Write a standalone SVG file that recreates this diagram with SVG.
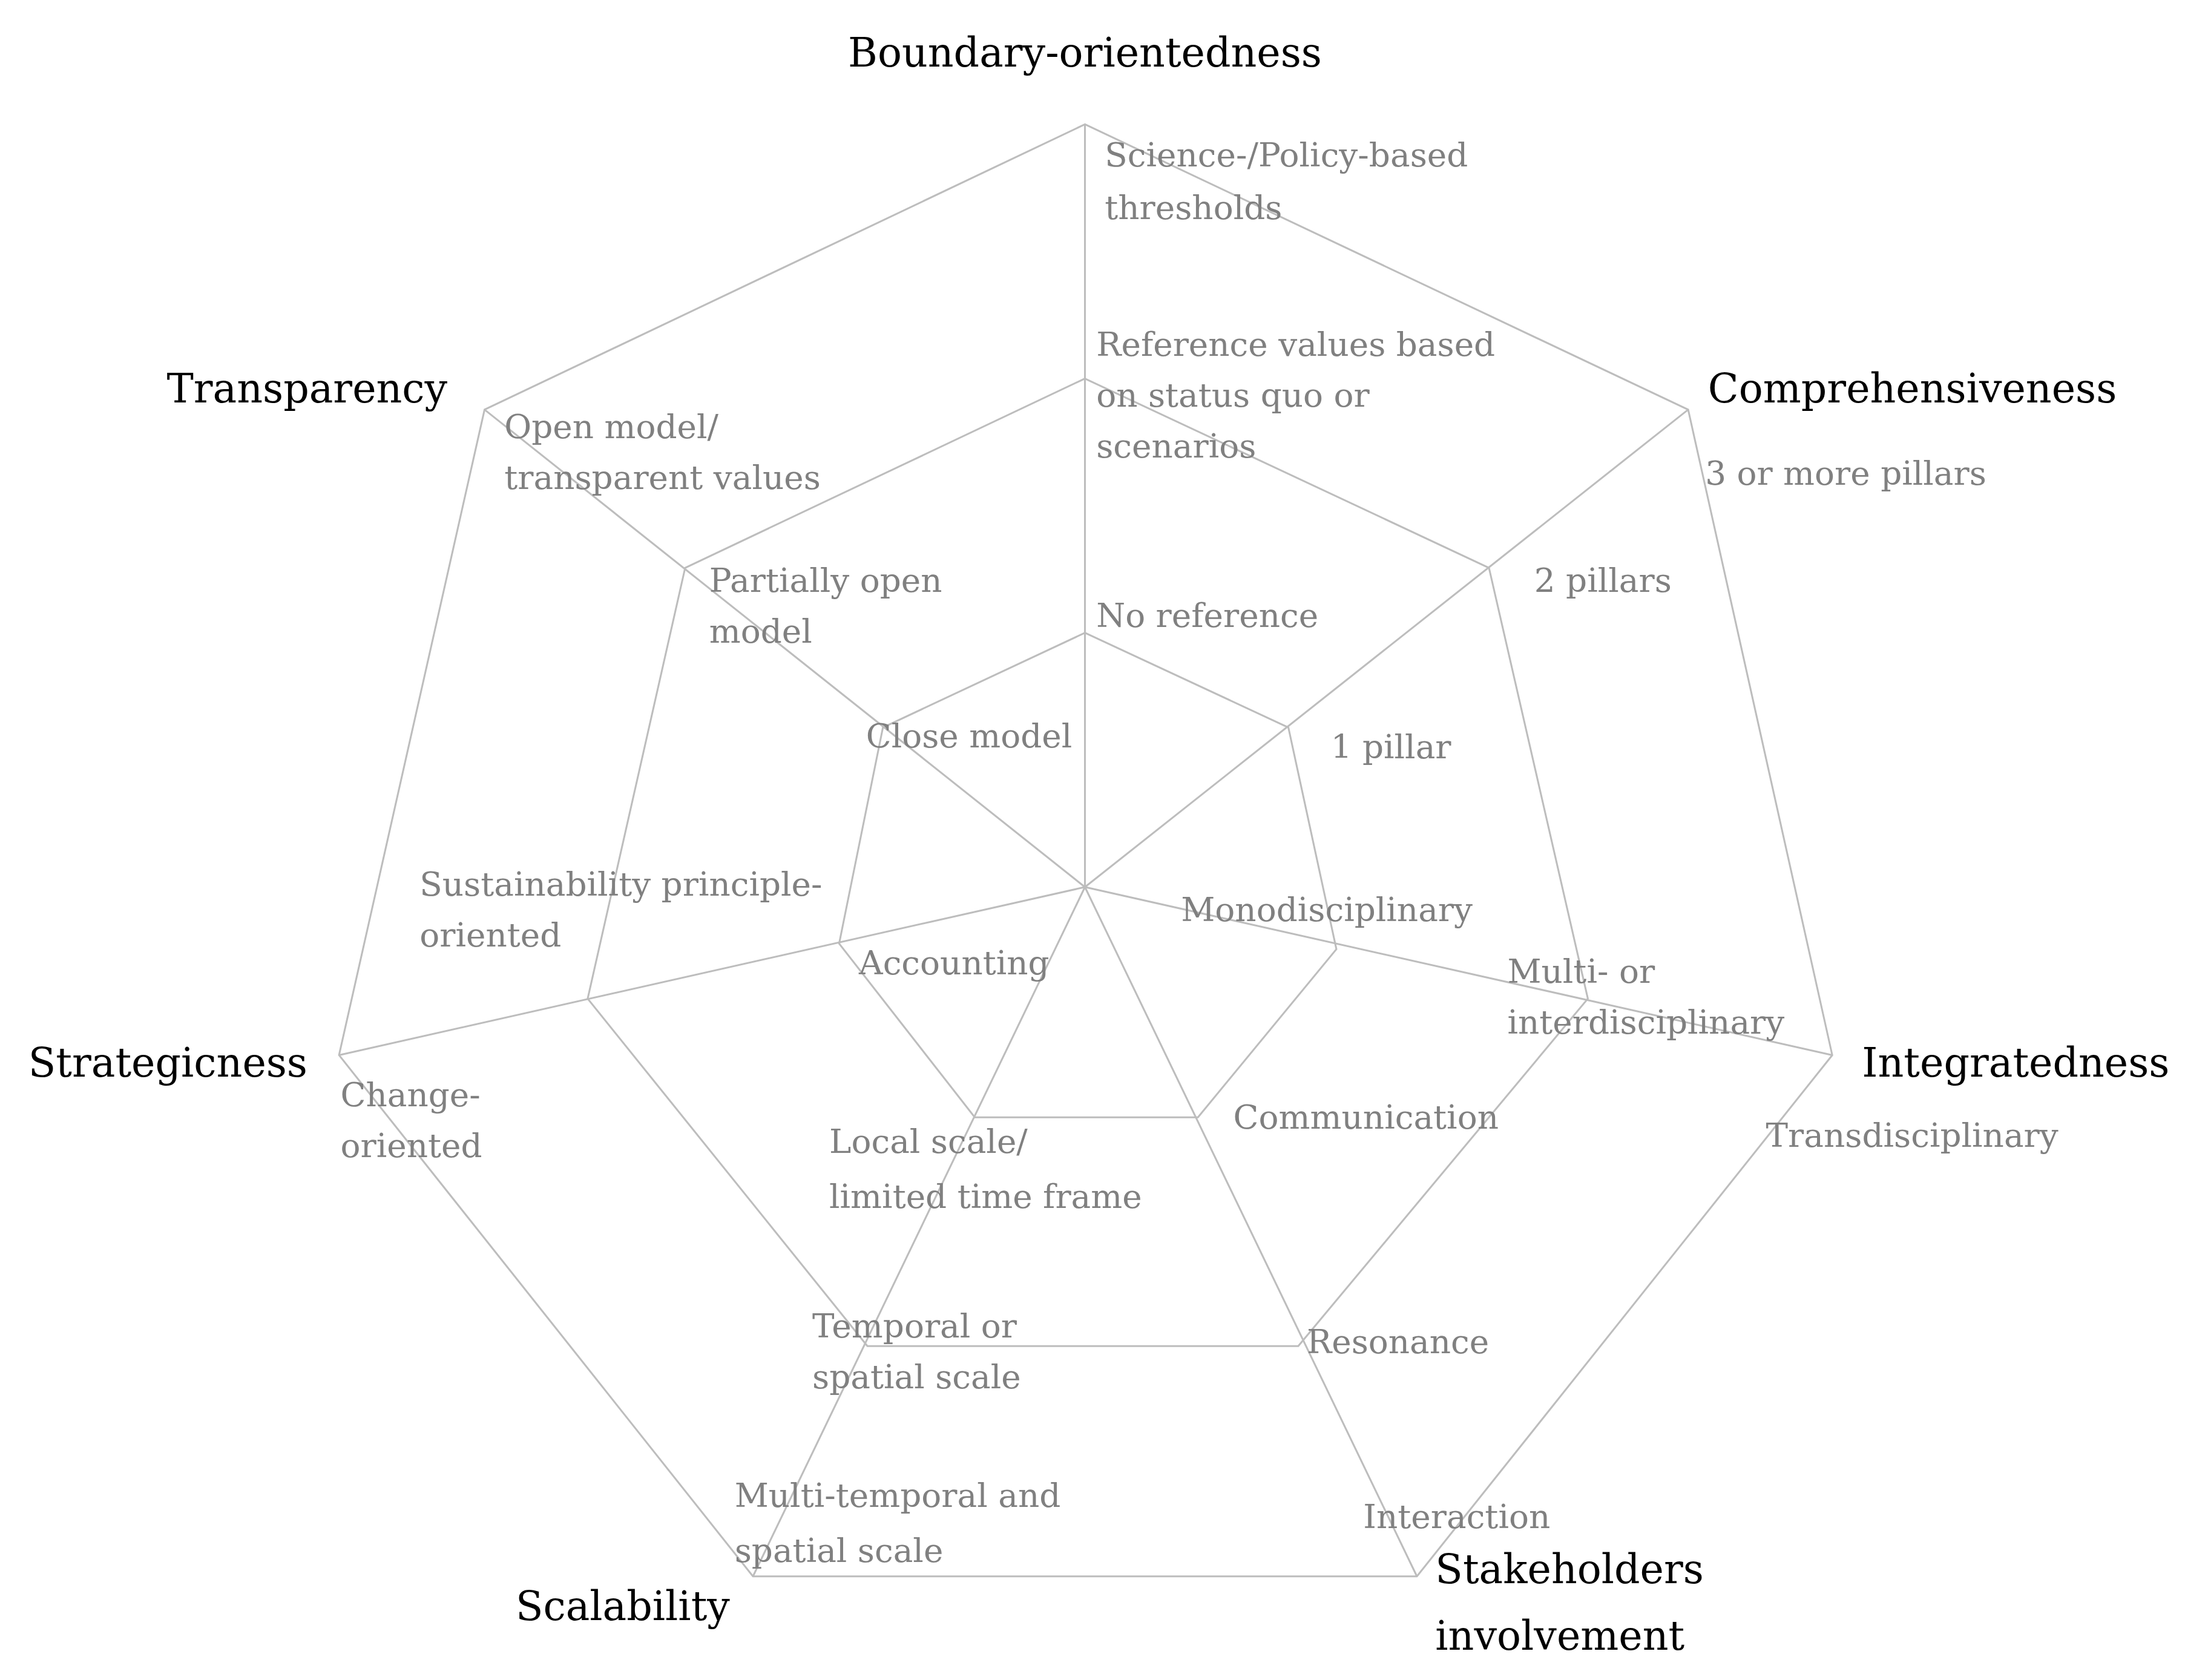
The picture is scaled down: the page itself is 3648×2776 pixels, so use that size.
<svg xmlns="http://www.w3.org/2000/svg" width="3648" height="2776" viewBox="0 0 3648 2776">
<style>
.g{fill:none;stroke:#bdbdbd;stroke-width:1.3}
.t{font-family:"DejaVu Serif","Liberation Serif",serif;font-size:23.5px;fill:#808080}
.b{font-family:"DejaVu Serif","Liberation Serif",serif;font-size:28.5px;fill:#000}
</style>
<rect width="3648" height="2776" fill="#fff"/>
<g transform="scale(2.334)">
<g id="connectors">
<polygon class="g" points="768,88 1195,290 1297,747 1003,1116 533,1116 240,747 343,290"/>
<polygon class="g" points="768,268 1054,402 1124,707 919,953 614,953 416,707 485,402"/>
<polygon class="g" points="768,448 912,515 946,672 848,791 690,791 594,668 625,515"/>
<path class="g" d="M768,628L768,88M768,628L1195,290M768,628L1297,747M768,628L1003,1116M768,628L533,1116M768,628L240,747M768,628L343,290"/>
</g>
<g id="axis-labels">
<text class="b" x="768" y="47" text-anchor="middle">Boundary-orientedness</text>
<text class="b" x="1209" y="285">Comprehensiveness</text>
<text class="b" x="1318" y="762">Integratedness</text>
<text class="b" x="1016" y="1121">Stakeholders</text>
<text class="b" x="1016" y="1168">involvement</text>
<text class="b" x="365" y="1147">Scalability</text>
<text class="b" x="20" y="762">Strategicness</text>
<text class="b" x="118" y="285">Transparency</text>
</g>
<g id="level-labels">
<text class="t" x="782" y="118">Science-/Policy-based</text>
<text class="t" x="782" y="155">thresholds</text>
<text class="t" x="776" y="252">Reference values based</text>
<text class="t" x="776" y="288">on status quo or</text>
<text class="t" x="776" y="324">scenarios</text>
<text class="t" x="776" y="444">No reference</text>
<text class="t" x="1207" y="343">3 or more pillars</text>
<text class="t" x="1086" y="419">2 pillars</text>
<text class="t" x="942" y="537">1 pillar</text>
<text class="t" x="836" y="652">Monodisciplinary</text>
<text class="t" x="1067" y="696">Multi- or</text>
<text class="t" x="1067" y="732">interdisciplinary</text>
<text class="t" x="1250" y="812">Transdisciplinary</text>
<text class="t" x="873" y="799">Communication</text>
<text class="t" x="925" y="958">Resonance</text>
<text class="t" x="965" y="1082">Interaction</text>
<text class="t" x="587" y="816">Local scale/</text>
<text class="t" x="587" y="855">limited time frame</text>
<text class="t" x="575" y="947">Temporal or</text>
<text class="t" x="575" y="983">spatial scale</text>
<text class="t" x="520" y="1067">Multi-temporal and</text>
<text class="t" x="520" y="1106">spatial scale</text>
<text class="t" x="608" y="690">Accounting</text>
<text class="t" x="297" y="634">Sustainability principle-</text>
<text class="t" x="297" y="670">oriented</text>
<text class="t" x="241" y="783">Change-</text>
<text class="t" x="241" y="819">oriented</text>
<text class="t" x="613" y="529">Close model</text>
<text class="t" x="502" y="419">Partially open</text>
<text class="t" x="502" y="455">model</text>
<text class="t" x="357" y="310">Open model/</text>
<text class="t" x="357" y="346">transparent values</text>
</g>
</g>
</svg>
